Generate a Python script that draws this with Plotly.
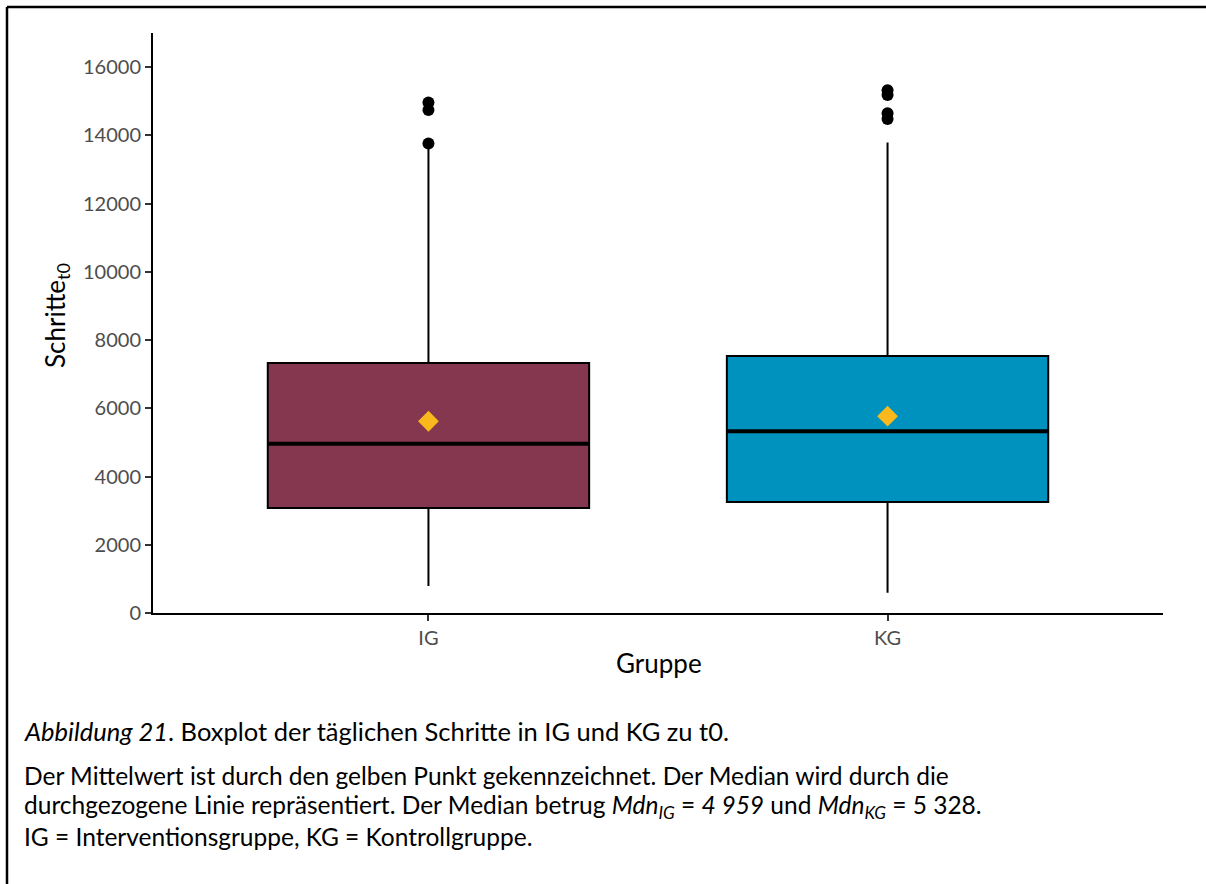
import plotly.graph_objects as go

groups = ["IG", "KG"]
positions = [0, 1]
q1 = [3077, 3253]
median = [4959, 5328]
q3 = [7330, 7530]
lower_whisker = [790, 590]
upper_whisker = [13700, 13790]
means = [5620, 5770]
outliers_ig = [13760, 14740, 14960]
outliers_kg = [14480, 14650, 15180, 15320]
fill_colors = ["#84374f", "#0092be"]

FONT = "Lato"
fig = go.Figure()

box_w = 0.7
for i, g in enumerate(groups):
    fig.add_trace(go.Box(
        x=[positions[i]], q1=[q1[i]], median=[median[i]], q3=[q3[i]],
        lowerfence=[lower_whisker[i]], upperfence=[upper_whisker[i]],
        width=box_w, whiskerwidth=0, fillcolor=fill_colors[i],
        line=dict(color="black", width=2), boxpoints=False,
        showlegend=False, hoverinfo="skip",
    ))
    fig.add_trace(go.Scatter(
        x=[positions[i] - box_w / 2, positions[i] + box_w / 2],
        y=[median[i], median[i]], mode="lines",
        line=dict(color="black", width=4), showlegend=False, hoverinfo="skip",
    ))

for i, outs in enumerate([outliers_ig, outliers_kg]):
    fig.add_trace(go.Scatter(
        x=[positions[i]] * len(outs), y=outs, mode="markers",
        marker=dict(color="black", size=12), showlegend=False,
    ))

fig.add_trace(go.Scatter(
    x=positions, y=means, mode="markers",
    marker=dict(symbol="diamond", color="#f9b81c", size=16),
    showlegend=False,
))

L, R, T, B = 153, 43, 33, 271
W, H = 1206, 884
pw, ph = W - L - R, H - T - B

def px(x):
    return (x - L) / pw

def py(y):
    return (H - B - y) / ph

fig.update_layout(
    width=W, height=H, margin=dict(l=L, r=R, t=T, b=B),
    plot_bgcolor="white", paper_bgcolor="white",
    font=dict(family=FONT, color="black"),
    xaxis=dict(range=[-0.6, 1.6], tickvals=positions, ticktext=groups,
               showgrid=False, zeroline=False, showline=True, linecolor="black",
               linewidth=2, ticks="outside", ticklen=6, tickwidth=1.5, tickcolor="#333",
               tickfont=dict(size=20, color="#4d4d4d", family=FONT)),
    yaxis=dict(range=[0, 17000], tickvals=list(range(0, 16001, 2000)), tickformat="d",
               showgrid=False, zeroline=False, showline=True, linecolor="black",
               linewidth=2, ticks="outside", ticklen=6, tickwidth=1.5, tickcolor="#333",
               tickfont=dict(size=20, color="#4d4d4d", family=FONT)),
)

ann = [
    dict(x=px(659), y=py(663), text="Gruppe", font=dict(size=26)),
    dict(x=px(56), y=py(316), text="Schritte<sub>t0</sub>", textangle=-90, font=dict(size=26)),
    dict(x=px(22), y=py(731), xanchor="left",
         text="<i>Abbildung 21</i>. Boxplot der täglichen Schritte in IG und KG zu t0.", font=dict(size=25.5)),
    dict(x=px(22), y=py(775), xanchor="left",
         text="Der Mittelwert ist durch den gelben Punkt gekennzeichnet. Der Median wird durch die", font=dict(size=24.5)),
    dict(x=px(22), y=py(806), xanchor="left",
         text="durchgezogene Linie repräsentiert. Der Median betrug <i>Mdn<sub>IG</sub></i> = <i>4 959</i> und <i>Mdn<sub>KG</sub></i> = 5 328.",
         font=dict(size=24.5)),
    dict(x=px(22), y=py(837), xanchor="left",
         text="IG = Interventionsgruppe, KG = Kontrollgruppe.", font=dict(size=24.5)),
]
for a in ann:
    a.setdefault("xanchor", "center")
    a.update(xref="paper", yref="paper", yanchor="middle", showarrow=False)
    fig.add_annotation(**a)

fig.add_shape(type="line", xref="paper", yref="paper", x0=px(7), x1=px(1220), y0=py(7), y1=py(7),
              line=dict(color="black", width=2.5))
fig.add_shape(type="line", xref="paper", yref="paper", x0=px(7), x1=px(7), y0=py(7), y1=py(900),
              line=dict(color="black", width=2.5))

fig.write_html("out.html")
